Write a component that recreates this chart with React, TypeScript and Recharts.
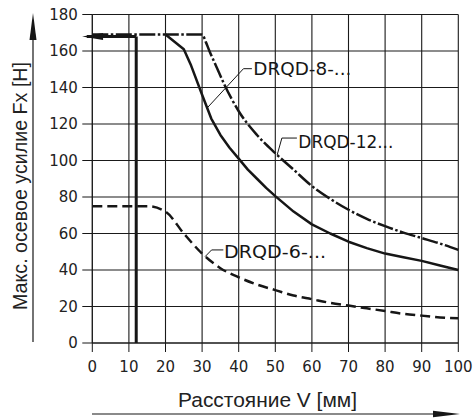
import React from 'react';
import { LineChart, Line, XAxis, YAxis, ReferenceLine, ReferenceDot } from 'recharts';

const xTicks = [0, 10, 20, 30, 40, 50, 60, 70, 80, 90, 100];
const yTicks = [0, 20, 40, 60, 80, 100, 120, 140, 160, 180];

// DRQD-12... (dash-dot)
const drqd12V = [0, 30, 31, 32, 34, 36, 38, 40, 45, 50, 55, 60, 65, 70, 75, 80, 85, 90, 95, 100];
const drqd12F = [169, 169, 165, 160, 151, 142, 134, 127, 114, 104, 95, 86, 79, 73, 68, 64, 60.5, 57.5, 54.5, 51];

// DRQD-8-... (solid)
const drqd8V = [20, 25, 27, 30, 32.5, 35, 37.5, 40, 42.5, 45, 47.5, 50, 55, 60, 65, 70, 75, 80, 85, 90, 95, 100];
const drqd8F = [169, 161, 152, 136, 123, 114, 107, 101, 95, 90, 85, 80.5, 72, 65, 60, 55.5, 52, 49, 47, 45, 42.5, 40];

// DRQD-6-... (dashed)
const drqd6V = [0, 15, 20, 25, 30, 35, 40, 45, 50, 55, 60, 65, 70, 75, 80, 85, 90, 95, 100];
const drqd6F = [75, 75, 72, 60, 49, 41, 36, 32, 29, 26, 24, 22, 20.5, 19, 17.5, 16, 15, 14, 13.5];

const limitV = 12;
const limitF = 168;

const toRows = (vs: number[], fs: number[]) => vs.map((v, i) => ({ v, f: fs[i] }));

const INK = '#161616';
const TICK_FONT = '"DejaVu Sans", sans-serif';
const TITLE_FONT = '"Liberation Sans", Arial, sans-serif';

const W = 475;
const H = 418;
const M = { top: 14.5, right: 16.7, bottom: 45, left: 0 };
const Y_AXIS_W = 92.3;
const X_AXIS_H = 30;
const PLOT_L = M.left + Y_AXIS_W;
const PLOT_T = M.top;
const PLOT_W = W - M.left - M.right - Y_AXIS_W;
const PLOT_H = H - M.top - M.bottom - X_AXIS_H;
const X_MAX = xTicks[xTicks.length - 1];
const Y_MAX = yTicks[yTicks.length - 1];

const tagText = (label: string, len: number) => (p: any) => (
  <text
    x={p.cx}
    y={p.cy}
    dominantBaseline="central"
    fontFamily={TICK_FONT}
    fontSize={18}
    fill={INK}
    textLength={len}
    lengthAdjust="spacingAndGlyphs"
  >
    {label}
  </text>
);

const arrowLeft = (p: any) => (
  <polygon points={`${p.cx},${p.cy} ${p.cx + 21},${p.cy - 3.5} ${p.cx + 21},${p.cy + 3.5}`} fill={INK} />
);

// top layer: grid (same linear mapping as the chart's plot box), titles, axis arrows
const Overlay: React.FC = () => {
  const gx = (v: number) => PLOT_L + (v / X_MAX) * PLOT_W;
  const gy = (f: number) => PLOT_T + PLOT_H - (f / Y_MAX) * PLOT_H;
  const gridPath =
    xTicks.map((v) => `M${gx(v).toFixed(2)} ${PLOT_T} L${gx(v).toFixed(2)} ${PLOT_T + PLOT_H}`).join(' ') +
    ' ' +
    yTicks.map((f) => `M${PLOT_L} ${gy(f).toFixed(2)} L${PLOT_L + PLOT_W} ${gy(f).toFixed(2)}`).join(' ');
  return (
    <svg
      width={W}
      height={H}
      style={{ position: 'absolute', left: 0, top: 0, zIndex: 5, pointerEvents: 'none' }}
    >
      <path d={gridPath} stroke="#1a1a1a" strokeWidth={1.1} fill="none" />
      <text
        transform="translate(26.7,186) rotate(-90)"
        textAnchor="middle"
        fontFamily={TITLE_FONT}
        fontSize={20.5}
        fill="#222"
        textLength={248}
        lengthAdjust="spacingAndGlyphs"
      >
        Макс. осевое усилие Fx [H]
      </text>
      <line x1={33} y1={38} x2={33} y2={342} stroke={INK} strokeWidth={1.2} />
      <polygon points="33,13 29.5,40 36.5,40" fill={INK} />
      <text
        x={267.5}
        y={407}
        textAnchor="middle"
        fontFamily={TITLE_FONT}
        fontSize={20.5}
        fill="#222"
        textLength={179}
        lengthAdjust="spacingAndGlyphs"
      >
        Расстояние V [мм]
      </text>
      <line x1={92} y1={414} x2={436} y2={414} stroke={INK} strokeWidth={1.2} />
      <polygon points="460,414 433,410.8 433,417.2" fill={INK} />
    </svg>
  );
};

const App: React.FC = () => {
  const tick = { fill: '#222', fontSize: 15, fontFamily: TICK_FONT };
  return (
    <div style={{ position: 'absolute', left: 0, top: 0, width: W, height: H }}>
      <LineChart width={W} height={H} margin={M}>
        <XAxis
          dataKey="v"
          type="number"
          domain={[0, X_MAX]}
          ticks={xTicks}
          height={X_AXIS_H}
          tickSize={9}
          tickMargin={9}
          tick={tick}
          stroke={INK}
          interval={0}
          allowDuplicatedCategory={false}
        />
        <YAxis
          type="number"
          domain={[0, Y_MAX]}
          ticks={yTicks}
          width={Y_AXIS_W}
          tickSize={10}
          tickMargin={4.5}
          tick={tick}
          stroke={INK}
          interval={0}
        />
        <Line
          data={toRows(drqd6V, drqd6F)}
          dataKey="f"
          type="monotone"
          stroke={INK}
          strokeWidth={2.5}
          strokeDasharray="10 5"
          dot={false}
          isAnimationActive={false}
        />
        <Line
          data={toRows(drqd12V, drqd12F)}
          dataKey="f"
          type="monotone"
          stroke={INK}
          strokeWidth={2.5}
          strokeDasharray="16 2.5 2.5 2.5"
          dot={false}
          isAnimationActive={false}
        />
        <Line
          data={toRows(drqd8V, drqd8F)}
          dataKey="f"
          type="linear"
          stroke={INK}
          strokeWidth={2.5}
          strokeLinejoin="round"
          dot={false}
          isAnimationActive={false}
        />
        <ReferenceLine segment={[{ x: limitV, y: 0 }, { x: limitV, y: limitF }]} stroke={INK} strokeWidth={3} />
        <ReferenceLine
          segment={[{ x: limitV, y: limitF }, { x: -1.5, y: limitF }]}
          stroke={INK}
          strokeWidth={3}
          ifOverflow="visible"
        />
        <ReferenceDot x={-2.8} y={limitF} r={0} ifOverflow="visible" shape={arrowLeft} />

        {/* leaders */}
        <ReferenceLine segment={[{ x: 31.3, y: 128.6 }, { x: 41.3, y: 150.3 }]} stroke={INK} strokeWidth={1} />
        <ReferenceLine segment={[{ x: 41.3, y: 150.3 }, { x: 43.6, y: 150.3 }]} stroke={INK} strokeWidth={1} />
        <ReferenceDot x={44} y={150.5} r={0} shape={tagText('DRQD-8-...', 98)} />

        <ReferenceLine segment={[{ x: 50.5, y: 103 }, { x: 51.8, y: 112.3 }]} stroke={INK} strokeWidth={1} />
        <ReferenceLine segment={[{ x: 51.8, y: 112.3 }, { x: 55.9, y: 112.3 }]} stroke={INK} strokeWidth={1} />
        <ReferenceDot x={56.3} y={110.3} r={0} shape={tagText('DRQD-12...', 95)} />

        <ReferenceLine segment={[{ x: 30.8, y: 47.3 }, { x: 32.6, y: 51 }]} stroke={INK} strokeWidth={1} />
        <ReferenceLine segment={[{ x: 32.6, y: 51 }, { x: 35.8, y: 51 }]} stroke={INK} strokeWidth={1} />
        <ReferenceDot x={36} y={50.4} r={0} shape={tagText('DRQD-6-...', 102)} />
      </LineChart>
      <Overlay />
    </div>
  );
};

export default App;
